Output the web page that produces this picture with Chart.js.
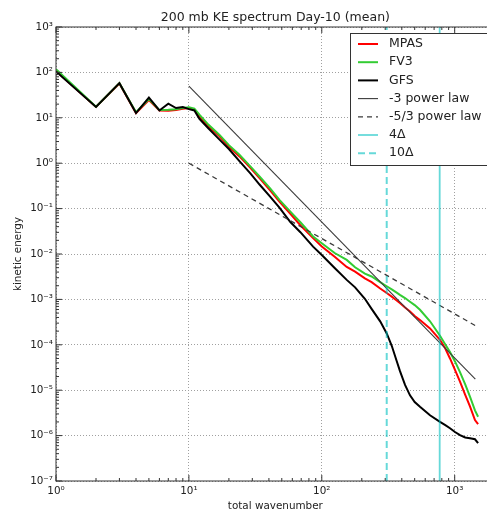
<!DOCTYPE html>
<html><head><meta charset="utf-8">
<script src="https://cdn.jsdelivr.net/npm/chart.js@4/dist/chart.umd.min.js"></script>
<style>html,body{margin:0;padding:0;overflow:hidden;background:#fff}canvas{display:block}</style>
</head><body>
<canvas id="c" width="500" height="513"></canvas>
<script>
// ---- data ----
const wavenumber = [1,2,3,4,5,6,7,8,9,10,11,12,14,17,20,24,29,34,41,48,58,69,86,100,125,154,178,211,237,275,308,336,366,387,423,461,500,548,652,775,850,922,1005,1096,1200,1303,1421,1500];
const mpas = [108,17.3,57,12.7,24.5,14.5,14.3,14.8,15.8,16.5,
  15.0,10.7,6.5,3.9,2.3,
  1.41,0.79,0.47,0.25,0.143,
  0.077,0.043,0.0224,0.0146,8.7e-3,
  5.2e-3,4.1e-3,2.9e-3,2.4e-3,1.74e-3,
  1.38e-3,1.15e-3,9.5e-4,8.3e-4,6.6e-4,
  5.4e-4,4.3e-4,3.5e-4,2.3e-4,1.29e-4,
  8.3e-5,5.0e-5,2.8e-5,1.55e-5,7.9e-6,
  4.4e-6,2.2e-6,1.8e-6];
const fv3 = [118,17.5,58,13.3,26,14.8,15.0,15.5,16.5,17.0,
  16.0,11.7,7.1,4.2,2.5,
  1.53,0.85,0.51,0.275,0.156,
  0.086,0.050,0.0243,0.0173,0.0105,
  7.4e-3,5.1e-3,3.7e-3,3.2e-3,2.4e-3,
  1.95e-3,1.66e-3,1.41e-3,1.26e-3,1.07e-3,
  8.9e-4,7.5e-4,5.9e-4,3.3e-4,1.58e-4,
  1.02e-4,6.9e-5,4.3e-5,2.5e-5,1.35e-5,
  7.2e-6,3.6e-6,2.6e-6];
const gfs = [105,17.3,58,12.7,28,14.5,20.4,16.4,17.3,15.5,
  14.5,9.5,5.9,3.3,2.05,
  1.11,0.596,0.339,0.182,0.105,
  0.0507,0.0302,0.0145,9.5e-3,4.9e-3,
  2.69e-3,1.84e-3,1.03e-3,6.2e-4,3.28e-4,
  1.78e-4,9.5e-5,4.4e-5,2.66e-5,1.31e-5,
  7.7e-6,5.5e-6,4.3e-6,2.8e-6,2.0e-6,
  1.7e-6,1.45e-6,1.2e-6,1.02e-6,9.1e-7,
  8.7e-7,8.3e-7,6.8e-7];
const powerLawK = [10, 1430];
const minus3Law = [50, 1.75e-5];
const minus53Law = [1.0, 2.65e-4];
const delta4K = [771, 771];
const delta10K = [308, 308];
const verticalSpan = [1e-7, 1e3];
const seriesNames = ['MPAS','FV3','GFS','-3 power law','-5/3 power law','4\u0394','10\u0394'];
const xDecades = [1, 10, 100, 1000];
const yDecades = [1e-7,1e-6,1e-5,1e-4,1e-3,1e-2,1e-1,1,10,100];
const xMax = 2000;
const yMax = 1000;

// ---- helpers ----
const pts = (xs, ys) => xs.map((x, i) => ({x: x, y: ys[i]}));
const isMajor = v => { const e = Math.round(Math.log10(v)); return Math.abs(v / Math.pow(10, e) - 1) < 1e-9; };
const SUP = {'-':'\u207B','0':'\u2070','1':'\u00B9','2':'\u00B2','3':'\u00B3','4':'\u2074','5':'\u2075','6':'\u2076','7':'\u2077','8':'\u2078','9':'\u2079'};
const tickLabel = v => isMajor(v) ? '10' + String(Math.round(Math.log10(v))).split('').map(c => SUP[c]).join('') : '';
function withMinors(decades, maxV) {
  const out = [];
  decades.forEach(d => { for (let m = 1; m <= 9; m++) { const v = d * m; if (v <= maxV * 1.0000001) out.push(v); } });
  if (!out.some(v => Math.abs(v / maxV - 1) < 1e-9) && isMajor(maxV)) out.push(maxV);
  return out;
}
const xTickValues = withMinors(xDecades, xMax);
const yTickValues = withMinors(yDecades, yMax);

const FONT = 'DejaVu Sans';
const TXT = '#222';
const CYAN = 'rgba(0,191,191,0.6)';

const datasets = [
  {label: seriesNames[0], data: pts(wavenumber, mpas), borderColor: '#ff0000', borderWidth: 2},
  {label: seriesNames[1], data: pts(wavenumber, fv3), borderColor: '#33cc33', borderWidth: 2},
  {label: seriesNames[2], data: pts(wavenumber, gfs), borderColor: '#000000', borderWidth: 2},
  {label: seriesNames[3], data: pts(powerLawK, minus3Law), borderColor: '#3a3a3a', borderWidth: 1.1},
  {label: seriesNames[4], data: pts(powerLawK, minus53Law), borderColor: '#3a3a3a', borderWidth: 1.3, borderDash: [5, 4]},
  {label: seriesNames[5], data: pts(delta4K, verticalSpan), borderColor: CYAN, borderWidth: 1.8},
  {label: seriesNames[6], data: pts(delta10K, verticalSpan), borderColor: CYAN, borderWidth: 2, borderDash: [7, 4]}
].map((d, i) => Object.assign(d, {showLine: true, pointRadius: 0, tension: 0, fill: false, order: 10 - i}));

const gridColor = ctx => (ctx.tick && isMajor(ctx.tick.value)) ? '#a0a0a0' : 'rgba(0,0,0,0)';

const framePlugin = {
  id: 'frame',
  afterDatasetsDraw(chart) {
    const {ctx, chartArea: {left, right, top, bottom}, scales: {x, y}} = chart;
    ctx.save();
    ctx.strokeStyle = '#333';
    ctx.lineWidth = 1;
    ctx.beginPath();
    x.ticks.forEach(t => {
      const px = x.getPixelForValue(t.value);
      if (px < left - 0.5 || px > right + 0.5) return;
      const len = isMajor(t.value) ? 6 : 3;
      ctx.moveTo(px, bottom); ctx.lineTo(px, bottom - len);
      ctx.moveTo(px, top); ctx.lineTo(px, top + len);
    });
    y.ticks.forEach(t => {
      const py = y.getPixelForValue(t.value);
      const len = isMajor(t.value) ? 6 : 3;
      ctx.moveTo(left, py); ctx.lineTo(left + len, py);
      ctx.moveTo(right, py); ctx.lineTo(right - len, py);
    });
    ctx.stroke();
    ctx.strokeRect(left, top, right - left, bottom - top);
    ctx.restore();
  },
  afterDraw(chart) {
    const ctx = chart.ctx;
    const bx = 350.5, by = 33.5, bw = 142, bh = 132;
    ctx.save();
    ctx.fillStyle = '#fff';
    ctx.fillRect(bx, by, bw, bh);
    ctx.strokeStyle = '#333';
    ctx.lineWidth = 1;
    ctx.strokeRect(bx, by, bw, bh);
    ctx.font = '12.5px "' + FONT + '"';
    ctx.textBaseline = 'middle';
    ctx.textAlign = 'left';
    chart.data.datasets.forEach((ds, i) => {
      const ry = 44 + i * 18.2;
      ctx.save();
      ctx.strokeStyle = ds.borderColor;
      ctx.lineWidth = ds.borderWidth;
      ctx.setLineDash(ds.borderDash || []);
      ctx.beginPath();
      ctx.moveTo(358, ry); ctx.lineTo(378, ry);
      ctx.stroke();
      ctx.restore();
      ctx.fillStyle = TXT;
      ctx.fillText(ds.label, 389, ry);
    });
    ctx.restore();
  }
};

new Chart(document.getElementById('c'), {
  type: 'scatter',
  data: {datasets: datasets},
  plugins: [framePlugin],
  options: {
    responsive: false,
    animation: false,
    devicePixelRatio: 1,
    layout: {padding: {left: 0, right: 5.3, top: 0, bottom: 0}},
    plugins: {
      legend: {display: false},
      tooltip: {enabled: false},
      title: {display: true, text: '200 mb KE spectrum Day-10 (mean)', fullSize: false, color: TXT,
        font: {family: FONT, size: 12.5, weight: 'normal', lineHeight: 1.2}, padding: {top: 10, bottom: 2}}
    },
    scales: {
      x: {
        type: 'logarithmic', position: 'bottom', min: 1, max: xMax,
        afterBuildTicks: s => { s.ticks = xTickValues.map(v => ({value: v})); },
        afterFit: s => { s.height = 32; },
        grid: {drawTicks: false, color: gridColor, lineWidth: 1},
        border: {display: false, dash: [1, 2]},
        ticks: {autoSkip: false, maxRotation: 0, minRotation: 0, padding: 4, color: TXT,
          font: {family: FONT, size: 10.4}, callback: v => tickLabel(v)},
        title: {display: true, text: 'total wavenumber', color: TXT, font: {family: FONT, size: 10.4, lineHeight: 1.2}, padding: {top: 0, bottom: 0}}
      },
      y: {
        type: 'logarithmic', position: 'left', min: 1e-7, max: yMax,
        afterBuildTicks: s => { s.ticks = yTickValues.map(v => ({value: v})); },
        afterFit: s => { s.width = 56; },
        grid: {drawTicks: false, color: gridColor, lineWidth: 1},
        border: {display: false, dash: [1, 2]},
        ticks: {autoSkip: false, padding: 3, color: TXT, font: {family: FONT, size: 10.4}, callback: v => tickLabel(v)},
        title: {display: true, text: 'kinetic energy', color: TXT, font: {family: FONT, size: 10.4, lineHeight: 1.2}, padding: {top: 12, bottom: 0}}
      }
    }
  }
});
</script>
</body></html>
